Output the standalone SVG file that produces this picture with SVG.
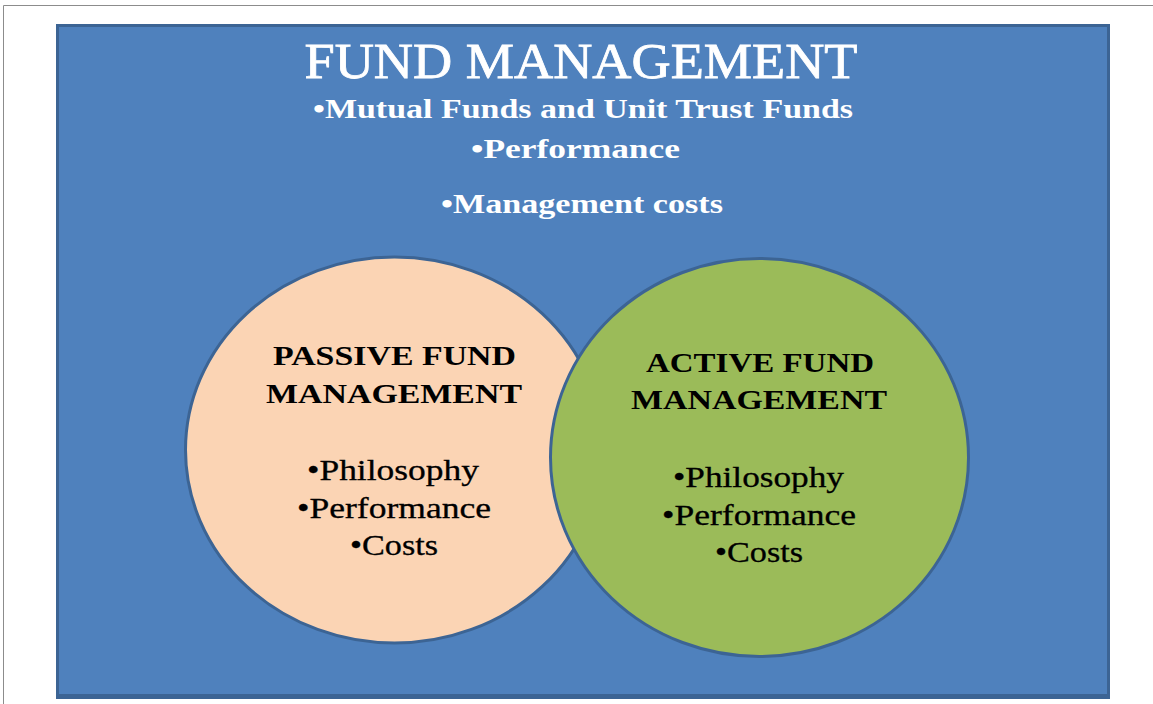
<svg xmlns="http://www.w3.org/2000/svg" width="1153" height="704" viewBox="0 0 1153 704">
  <style>
    .serif { font-family: "Liberation Serif", "Times New Roman", serif; }
    .title { fill: #ffffff; stroke: #ffffff; stroke-width: 0.8px; font-size: 50px; text-anchor: middle; }
    .topic { fill: #ffffff; font-size: 28px; font-weight: bold; text-anchor: middle; }
    .head { fill: #000000; font-size: 28px; font-weight: bold; text-anchor: middle; }
    .item { fill: #000000; stroke: #000000; stroke-width: 0.3px; font-size: 29px; text-anchor: middle; }
    .ring { stroke: #3c6494; stroke-width: 3; }
  </style>

  <!-- page background and frame -->
  <rect x="0" y="0" width="1153" height="704" fill="#ffffff"/>
  <path d="M3.5 704 V5.5 H1153" fill="none" stroke="#8c8c8c" stroke-width="1"/>

  <!-- outer panel -->
  <g id="fund-management">
    <rect x="56" y="24" width="1054" height="675" fill="#3c6494"/>
    <rect x="57.5" y="25.5" width="1051" height="670" fill="#4f81bd" stroke="#3c6494" stroke-width="3"/>
    <text class="serif title" x="581" y="78" textLength="553" lengthAdjust="spacingAndGlyphs">FUND MANAGEMENT</text>
    <text class="serif topic" x="583" y="118" textLength="540" lengthAdjust="spacingAndGlyphs">•Mutual Funds and Unit Trust Funds</text>
    <text class="serif topic" x="575.5" y="158" textLength="209" lengthAdjust="spacingAndGlyphs">•Performance</text>
    <text class="serif topic" x="582" y="213" textLength="282" lengthAdjust="spacingAndGlyphs">•Management costs</text>
  </g>

  <!-- passive circle -->
  <g id="passive">
    <ellipse class="ring" cx="394.5" cy="450" rx="209" ry="193" fill="#fbd4b4"/>
    <text class="serif head" x="394.5" y="365" textLength="243" lengthAdjust="spacingAndGlyphs">PASSIVE FUND</text>
    <text class="serif head" x="394" y="403" textLength="256" lengthAdjust="spacingAndGlyphs">MANAGEMENT</text>
    <text class="serif item" x="393" y="480" textLength="172" lengthAdjust="spacingAndGlyphs">•Philosophy</text>
    <text class="serif item" x="394" y="518" textLength="194" lengthAdjust="spacingAndGlyphs">•Performance</text>
    <text class="serif item" x="394" y="555" textLength="88" lengthAdjust="spacingAndGlyphs">•Costs</text>
  </g>

  <!-- active circle -->
  <g id="active">
    <ellipse class="ring" cx="759.5" cy="457.5" rx="209" ry="199" fill="#9bbb59"/>
    <text class="serif head" x="760" y="372" textLength="228" lengthAdjust="spacingAndGlyphs">ACTIVE FUND</text>
    <text class="serif head" x="759" y="409" textLength="256" lengthAdjust="spacingAndGlyphs">MANAGEMENT</text>
    <text class="serif item" x="758.5" y="487" textLength="171" lengthAdjust="spacingAndGlyphs">•Philosophy</text>
    <text class="serif item" x="759" y="525" textLength="194" lengthAdjust="spacingAndGlyphs">•Performance</text>
    <text class="serif item" x="759" y="562" textLength="88" lengthAdjust="spacingAndGlyphs">•Costs</text>
  </g>
</svg>
